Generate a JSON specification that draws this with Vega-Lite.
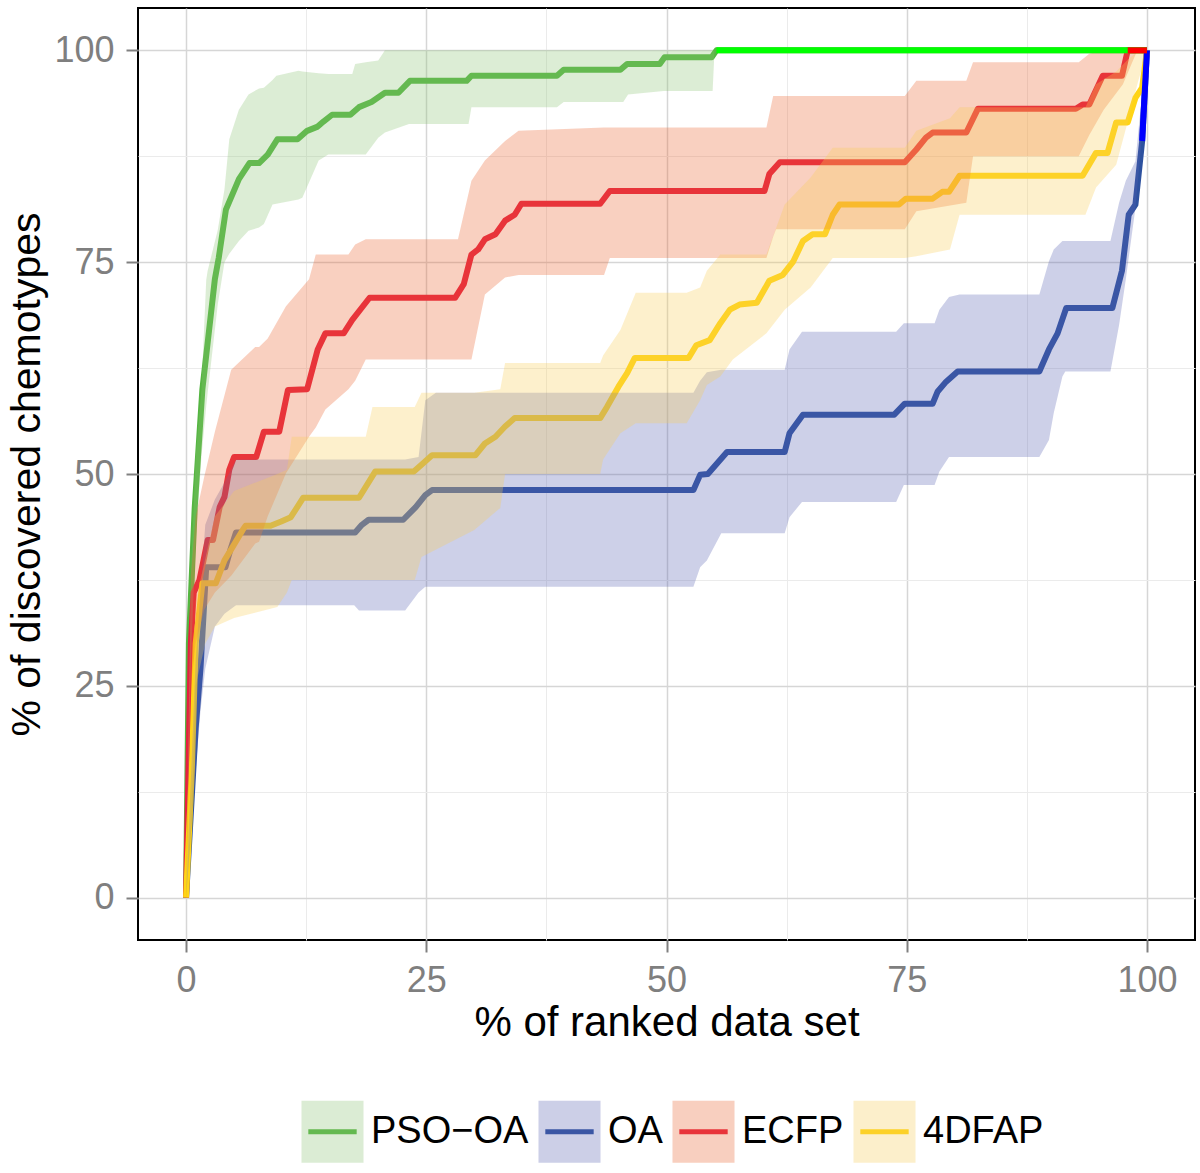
{
  "$schema": "https://vega.github.io/schema/vega-lite/v6.json",
  "width": 1057,
  "height": 932,
  "autosize": {"type": "none"},
  "padding": {"left": 138, "top": 8, "right": 5, "bottom": 233},
  "background": "white",
  "config": {"view": {"stroke": "#000000", "strokeWidth": 2}, "font": "Liberation Sans"},
  "datasets": {
    "lines": [
      {"series": "PSO−OA", "x": 0, "y": 0}, {"series": "PSO−OA", "x": 0.3, "y": 30}, {"series": "PSO−OA", "x": 0.9, "y": 46}, {"series": "PSO−OA", "x": 1.7, "y": 60}, {"series": "PSO−OA", "x": 3.0, "y": 73}, {"series": "PSO−OA", "x": 3.4, "y": 75.5}, {"series": "PSO−OA", "x": 4.15, "y": 81.2}, {"series": "PSO−OA", "x": 5.5, "y": 84.8}, {"series": "PSO−OA", "x": 6.6, "y": 86.7}, {"series": "PSO−OA", "x": 7.6, "y": 86.7}, {"series": "PSO−OA", "x": 8.5, "y": 87.7}, {"series": "PSO−OA", "x": 9.5, "y": 89.5}, {"series": "PSO−OA", "x": 11.6, "y": 89.5}, {"series": "PSO−OA", "x": 12.6, "y": 90.5}, {"series": "PSO−OA", "x": 13.7, "y": 91.0}, {"series": "PSO−OA", "x": 14.3, "y": 91.6}, {"series": "PSO−OA", "x": 15.2, "y": 92.4}, {"series": "PSO−OA", "x": 17.1, "y": 92.4}, {"series": "PSO−OA", "x": 18.0, "y": 93.3}, {"series": "PSO−OA", "x": 19.3, "y": 93.9}, {"series": "PSO−OA", "x": 20.7, "y": 95.0}, {"series": "PSO−OA", "x": 22.1, "y": 95.0}, {"series": "PSO−OA", "x": 23.3, "y": 96.4}, {"series": "PSO−OA", "x": 29.2, "y": 96.4}, {"series": "PSO−OA", "x": 29.7, "y": 97.0}, {"series": "PSO−OA", "x": 38.6, "y": 97.0}, {"series": "PSO−OA", "x": 39.3, "y": 97.7}, {"series": "PSO−OA", "x": 45.2, "y": 97.7}, {"series": "PSO−OA", "x": 45.9, "y": 98.4}, {"series": "PSO−OA", "x": 49.3, "y": 98.4}, {"series": "PSO−OA", "x": 49.8, "y": 99.2}, {"series": "PSO−OA", "x": 54.7, "y": 99.2}, {"series": "PSO−OA", "x": 55.2, "y": 100}, {"series": "PSO−OA", "x": 100, "y": 100},

      {"series": "OA", "x": 0, "y": 0}, {"series": "OA", "x": 1.0, "y": 20}, {"series": "OA", "x": 1.5, "y": 27}, {"series": "OA", "x": 1.9, "y": 35}, {"series": "OA", "x": 2.1, "y": 39.0}, {"series": "OA", "x": 4.1, "y": 39.0}, {"series": "OA", "x": 4.6, "y": 41}, {"series": "OA", "x": 5.2, "y": 43.1}, {"series": "OA", "x": 17.6, "y": 43.1}, {"series": "OA", "x": 18.3, "y": 44.0}, {"series": "OA", "x": 19.0, "y": 44.6}, {"series": "OA", "x": 22.6, "y": 44.6}, {"series": "OA", "x": 23.9, "y": 46.1}, {"series": "OA", "x": 24.9, "y": 47.5}, {"series": "OA", "x": 25.6, "y": 48.1}, {"series": "OA", "x": 52.8, "y": 48.1}, {"series": "OA", "x": 53.5, "y": 49.9}, {"series": "OA", "x": 54.3, "y": 50.0}, {"series": "OA", "x": 56.3, "y": 52.6}, {"series": "OA", "x": 62.3, "y": 52.6}, {"series": "OA", "x": 62.8, "y": 54.8}, {"series": "OA", "x": 64.2, "y": 57.0}, {"series": "OA", "x": 73.7, "y": 57.0}, {"series": "OA", "x": 74.8, "y": 58.3}, {"series": "OA", "x": 77.7, "y": 58.3}, {"series": "OA", "x": 78.2, "y": 59.7}, {"series": "OA", "x": 79.1, "y": 60.9}, {"series": "OA", "x": 80.3, "y": 62.1}, {"series": "OA", "x": 88.8, "y": 62.1}, {"series": "OA", "x": 89.8, "y": 64.7}, {"series": "OA", "x": 90.7, "y": 66.6}, {"series": "OA", "x": 91.6, "y": 69.6}, {"series": "OA", "x": 96.4, "y": 69.6}, {"series": "OA", "x": 97.4, "y": 74}, {"series": "OA", "x": 98.1, "y": 80.6}, {"series": "OA", "x": 98.8, "y": 81.8}, {"series": "OA", "x": 99.5, "y": 89.3}, {"series": "OA", "x": 100, "y": 100},

      {"series": "ECFP", "x": 0, "y": 0}, {"series": "ECFP", "x": 0.5, "y": 30}, {"series": "ECFP", "x": 0.8, "y": 36}, {"series": "ECFP", "x": 1.4, "y": 37.5}, {"series": "ECFP", "x": 2.25, "y": 42.2}, {"series": "ECFP", "x": 2.8, "y": 42.2}, {"series": "ECFP", "x": 3.5, "y": 46.1}, {"series": "ECFP", "x": 4.0, "y": 47.3}, {"series": "ECFP", "x": 4.5, "y": 50.5}, {"series": "ECFP", "x": 5.0, "y": 52.0}, {"series": "ECFP", "x": 7.3, "y": 52.0}, {"series": "ECFP", "x": 8.1, "y": 55.0}, {"series": "ECFP", "x": 9.7, "y": 55.0}, {"series": "ECFP", "x": 10.6, "y": 59.9}, {"series": "ECFP", "x": 12.6, "y": 60.0}, {"series": "ECFP", "x": 13.7, "y": 64.7}, {"series": "ECFP", "x": 14.5, "y": 66.6}, {"series": "ECFP", "x": 16.4, "y": 66.6}, {"series": "ECFP", "x": 17.3, "y": 68.2}, {"series": "ECFP", "x": 19.1, "y": 70.8}, {"series": "ECFP", "x": 28.0, "y": 70.8}, {"series": "ECFP", "x": 28.9, "y": 72.4}, {"series": "ECFP", "x": 29.7, "y": 75.9}, {"series": "ECFP", "x": 30.4, "y": 76.5}, {"series": "ECFP", "x": 31.1, "y": 77.7}, {"series": "ECFP", "x": 32.2, "y": 78.3}, {"series": "ECFP", "x": 33.2, "y": 79.9}, {"series": "ECFP", "x": 34.2, "y": 80.6}, {"series": "ECFP", "x": 34.9, "y": 81.9}, {"series": "ECFP", "x": 43.1, "y": 81.9}, {"series": "ECFP", "x": 44.1, "y": 83.4}, {"series": "ECFP", "x": 60.2, "y": 83.4}, {"series": "ECFP", "x": 60.7, "y": 85.4}, {"series": "ECFP", "x": 61.8, "y": 86.8}, {"series": "ECFP", "x": 74.8, "y": 86.8}, {"series": "ECFP", "x": 76.0, "y": 88.3}, {"series": "ECFP", "x": 77.0, "y": 89.7}, {"series": "ECFP", "x": 77.7, "y": 90.3}, {"series": "ECFP", "x": 81.2, "y": 90.3}, {"series": "ECFP", "x": 82.4, "y": 93.1}, {"series": "ECFP", "x": 92.6, "y": 93.1}, {"series": "ECFP", "x": 93.3, "y": 93.6}, {"series": "ECFP", "x": 94.0, "y": 93.6}, {"series": "ECFP", "x": 95.4, "y": 97.0}, {"series": "ECFP", "x": 97.4, "y": 97.0}, {"series": "ECFP", "x": 98.0, "y": 100}, {"series": "ECFP", "x": 100, "y": 100},

      {"series": "4DFAP", "x": 0, "y": 0}, {"series": "4DFAP", "x": 0.6, "y": 15}, {"series": "4DFAP", "x": 1.0, "y": 30}, {"series": "4DFAP", "x": 1.4, "y": 34}, {"series": "4DFAP", "x": 1.7, "y": 37.1}, {"series": "4DFAP", "x": 3.1, "y": 37.1}, {"series": "4DFAP", "x": 4.0, "y": 39.8}, {"series": "4DFAP", "x": 4.85, "y": 41.4}, {"series": "4DFAP", "x": 5.9, "y": 43.4}, {"series": "4DFAP", "x": 6.2, "y": 43.9}, {"series": "4DFAP", "x": 8.8, "y": 43.9}, {"series": "4DFAP", "x": 9.9, "y": 44.4}, {"series": "4DFAP", "x": 10.9, "y": 44.9}, {"series": "4DFAP", "x": 12.2, "y": 47.2}, {"series": "4DFAP", "x": 18.0, "y": 47.2}, {"series": "4DFAP", "x": 19.7, "y": 50.3}, {"series": "4DFAP", "x": 23.7, "y": 50.3}, {"series": "4DFAP", "x": 24.5, "y": 51.1}, {"series": "4DFAP", "x": 25.6, "y": 52.2}, {"series": "4DFAP", "x": 30.1, "y": 52.2}, {"series": "4DFAP", "x": 31.1, "y": 53.6}, {"series": "4DFAP", "x": 32.2, "y": 54.4}, {"series": "4DFAP", "x": 33.2, "y": 55.6}, {"series": "4DFAP", "x": 34.2, "y": 56.6}, {"series": "4DFAP", "x": 43.1, "y": 56.6}, {"series": "4DFAP", "x": 43.8, "y": 57.9}, {"series": "4DFAP", "x": 45.0, "y": 60.3}, {"series": "4DFAP", "x": 45.9, "y": 61.9}, {"series": "4DFAP", "x": 46.7, "y": 63.7}, {"series": "4DFAP", "x": 52.3, "y": 63.7}, {"series": "4DFAP", "x": 53.1, "y": 65.2}, {"series": "4DFAP", "x": 54.5, "y": 65.8}, {"series": "4DFAP", "x": 55.6, "y": 67.8}, {"series": "4DFAP", "x": 56.6, "y": 69.4}, {"series": "4DFAP", "x": 57.6, "y": 70.0}, {"series": "4DFAP", "x": 59.4, "y": 70.2}, {"series": "4DFAP", "x": 60.7, "y": 72.8}, {"series": "4DFAP", "x": 62.1, "y": 73.5}, {"series": "4DFAP", "x": 63.2, "y": 75.1}, {"series": "4DFAP", "x": 64.2, "y": 77.5}, {"series": "4DFAP", "x": 65.2, "y": 78.3}, {"series": "4DFAP", "x": 66.5, "y": 78.3}, {"series": "4DFAP", "x": 67.3, "y": 80.6}, {"series": "4DFAP", "x": 68.0, "y": 81.8}, {"series": "4DFAP", "x": 74.2, "y": 81.8}, {"series": "4DFAP", "x": 74.9, "y": 82.5}, {"series": "4DFAP", "x": 77.7, "y": 82.5}, {"series": "4DFAP", "x": 78.7, "y": 83.3}, {"series": "4DFAP", "x": 79.4, "y": 83.3}, {"series": "4DFAP", "x": 80.5, "y": 85.2}, {"series": "4DFAP", "x": 93.3, "y": 85.2}, {"series": "4DFAP", "x": 94.7, "y": 87.9}, {"series": "4DFAP", "x": 95.9, "y": 87.9}, {"series": "4DFAP", "x": 96.8, "y": 91.5}, {"series": "4DFAP", "x": 98.0, "y": 91.5}, {"series": "4DFAP", "x": 98.8, "y": 94.4}, {"series": "4DFAP", "x": 99.5, "y": 95.6}, {"series": "4DFAP", "x": 100, "y": 100}
    ],
    "bands": [
      {"series": "PSO−OA", "x": 0, "lo": 0, "hi": 0}, {"series": "PSO−OA", "x": 0.5, "lo": 28, "hi": 38}, {"series": "PSO−OA", "x": 1.0, "lo": 42, "hi": 52}, {"series": "PSO−OA", "x": 1.6, "lo": 52, "hi": 60}, {"series": "PSO−OA", "x": 2.1, "lo": 58, "hi": 72.9}, {"series": "PSO−OA", "x": 2.25, "lo": 59.6, "hi": 74}, {"series": "PSO−OA", "x": 3.3, "lo": 70, "hi": 78.8}, {"series": "PSO−OA", "x": 4.0, "lo": 75, "hi": 83.6}, {"series": "PSO−OA", "x": 4.5, "lo": 76, "hi": 89.5}, {"series": "PSO−OA", "x": 5.5, "lo": 77.5, "hi": 93.0}, {"series": "PSO−OA", "x": 6.5, "lo": 78.7, "hi": 94.8}, {"series": "PSO−OA", "x": 7.6, "lo": 79.1, "hi": 95.5}, {"series": "PSO−OA", "x": 8.1, "lo": 79.5, "hi": 95.6}, {"series": "PSO−OA", "x": 9.0, "lo": 81.8, "hi": 96.5}, {"series": "PSO−OA", "x": 9.4, "lo": 81.9, "hi": 97.0}, {"series": "PSO−OA", "x": 11.7, "lo": 82.4, "hi": 97.6}, {"series": "PSO−OA", "x": 12.1, "lo": 82.6, "hi": 97.5}, {"series": "PSO−OA", "x": 13.8, "lo": 87.0, "hi": 97.3}, {"series": "PSO−OA", "x": 14.8, "lo": 87.7, "hi": 97.2}, {"series": "PSO−OA", "x": 17.3, "lo": 87.7, "hi": 97.2}, {"series": "PSO−OA", "x": 17.6, "lo": 87.7, "hi": 98.4}, {"series": "PSO−OA", "x": 18.7, "lo": 87.7, "hi": 98.6}, {"series": "PSO−OA", "x": 20.0, "lo": 89.7, "hi": 98.8}, {"series": "PSO−OA", "x": 20.7, "lo": 90.3, "hi": 100}, {"series": "PSO−OA", "x": 23.2, "lo": 91.3, "hi": 100}, {"series": "PSO−OA", "x": 29.4, "lo": 91.3, "hi": 100}, {"series": "PSO−OA", "x": 29.7, "lo": 93.3, "hi": 100}, {"series": "PSO−OA", "x": 38.6, "lo": 93.3, "hi": 100}, {"series": "PSO−OA", "x": 39.3, "lo": 93.9, "hi": 100}, {"series": "PSO−OA", "x": 45.5, "lo": 93.9, "hi": 100}, {"series": "PSO−OA", "x": 46.0, "lo": 94.8, "hi": 100}, {"series": "PSO−OA", "x": 49.7, "lo": 95.2, "hi": 100}, {"series": "PSO−OA", "x": 54.8, "lo": 95.2, "hi": 100}, {"series": "PSO−OA", "x": 55.0, "lo": 100, "hi": 100}, {"series": "PSO−OA", "x": 100, "lo": 100, "hi": 100},

      {"series": "OA", "x": 0, "lo": 0, "hi": 0}, {"series": "OA", "x": 1.0, "lo": 15, "hi": 28}, {"series": "OA", "x": 1.5, "lo": 22, "hi": 36}, {"series": "OA", "x": 2.0, "lo": 27, "hi": 44}, {"series": "OA", "x": 3.0, "lo": 32, "hi": 47}, {"series": "OA", "x": 4.0, "lo": 33.5, "hi": 49}, {"series": "OA", "x": 5.2, "lo": 34.5, "hi": 51.7}, {"series": "OA", "x": 17.5, "lo": 34.5, "hi": 51.7}, {"series": "OA", "x": 18.0, "lo": 33.9, "hi": 51.7}, {"series": "OA", "x": 22.8, "lo": 33.9, "hi": 51.7}, {"series": "OA", "x": 24.2, "lo": 36, "hi": 52}, {"series": "OA", "x": 24.9, "lo": 36.7, "hi": 58.7}, {"series": "OA", "x": 26.0, "lo": 36.7, "hi": 59.6}, {"series": "OA", "x": 52.8, "lo": 36.7, "hi": 59.6}, {"series": "OA", "x": 53.5, "lo": 39.0, "hi": 61.0}, {"series": "OA", "x": 54.2, "lo": 39.8, "hi": 62.0}, {"series": "OA", "x": 55.7, "lo": 43.0, "hi": 62.3}, {"series": "OA", "x": 62.3, "lo": 43.0, "hi": 62.3}, {"series": "OA", "x": 62.8, "lo": 44.9, "hi": 64.7}, {"series": "OA", "x": 64.1, "lo": 46.7, "hi": 66.8}, {"series": "OA", "x": 73.9, "lo": 46.7, "hi": 66.8}, {"series": "OA", "x": 74.7, "lo": 48.7, "hi": 67.8}, {"series": "OA", "x": 77.9, "lo": 48.7, "hi": 67.8}, {"series": "OA", "x": 78.4, "lo": 50.3, "hi": 69.4}, {"series": "OA", "x": 79.4, "lo": 52.0, "hi": 70.9}, {"series": "OA", "x": 80.5, "lo": 52.0, "hi": 71.2}, {"series": "OA", "x": 88.8, "lo": 52.0, "hi": 71.2}, {"series": "OA", "x": 89.8, "lo": 54.0, "hi": 75.1}, {"series": "OA", "x": 90.3, "lo": 57.2, "hi": 76.5}, {"series": "OA", "x": 91.2, "lo": 61.5, "hi": 77.5}, {"series": "OA", "x": 91.5, "lo": 62.1, "hi": 77.5}, {"series": "OA", "x": 96.2, "lo": 62.1, "hi": 77.5}, {"series": "OA", "x": 97.1, "lo": 67.6, "hi": 82}, {"series": "OA", "x": 97.8, "lo": 73, "hi": 84.6}, {"series": "OA", "x": 98.8, "lo": 81.4, "hi": 86.9}, {"series": "OA", "x": 99.5, "lo": 90, "hi": 95}, {"series": "OA", "x": 100, "lo": 100, "hi": 100},

      {"series": "ECFP", "x": 0, "lo": 0, "hi": 0}, {"series": "ECFP", "x": 0.5, "lo": 25, "hi": 38}, {"series": "ECFP", "x": 1.0, "lo": 30, "hi": 45}, {"series": "ECFP", "x": 1.9, "lo": 34, "hi": 49.7}, {"series": "ECFP", "x": 3.0, "lo": 36, "hi": 55}, {"series": "ECFP", "x": 4.7, "lo": 38, "hi": 62.3}, {"series": "ECFP", "x": 7.2, "lo": 41.8, "hi": 65.0}, {"series": "ECFP", "x": 7.6, "lo": 42, "hi": 65.0}, {"series": "ECFP", "x": 8.5, "lo": 45, "hi": 66}, {"series": "ECFP", "x": 10.4, "lo": 50.1, "hi": 69.8}, {"series": "ECFP", "x": 12.8, "lo": 54.4, "hi": 73}, {"series": "ECFP", "x": 13.5, "lo": 55.5, "hi": 75.9}, {"series": "ECFP", "x": 14.5, "lo": 57.6, "hi": 75.9}, {"series": "ECFP", "x": 16.9, "lo": 60, "hi": 75.9}, {"series": "ECFP", "x": 17.6, "lo": 61, "hi": 77.1}, {"series": "ECFP", "x": 18.7, "lo": 63.5, "hi": 77.7}, {"series": "ECFP", "x": 28.3, "lo": 63.5, "hi": 77.7}, {"series": "ECFP", "x": 29.7, "lo": 63.5, "hi": 84.6}, {"series": "ECFP", "x": 31.1, "lo": 71.2, "hi": 87}, {"series": "ECFP", "x": 33.2, "lo": 73.2, "hi": 89.3}, {"series": "ECFP", "x": 34.6, "lo": 73.5, "hi": 90.5}, {"series": "ECFP", "x": 43.5, "lo": 73.5, "hi": 90.9}, {"series": "ECFP", "x": 44.1, "lo": 75.5, "hi": 90.9}, {"series": "ECFP", "x": 60.4, "lo": 75.5, "hi": 90.9}, {"series": "ECFP", "x": 61.1, "lo": 78.0, "hi": 94.6}, {"series": "ECFP", "x": 61.4, "lo": 78.9, "hi": 94.6}, {"series": "ECFP", "x": 74.8, "lo": 78.9, "hi": 94.6}, {"series": "ECFP", "x": 76.0, "lo": 81, "hi": 96.4}, {"series": "ECFP", "x": 81.2, "lo": 82, "hi": 96.4}, {"series": "ECFP", "x": 81.9, "lo": 87.5, "hi": 98.6}, {"series": "ECFP", "x": 92.9, "lo": 87.5, "hi": 98.6}, {"series": "ECFP", "x": 94.0, "lo": 90, "hi": 99.6}, {"series": "ECFP", "x": 95.5, "lo": 93, "hi": 100}, {"series": "ECFP", "x": 97.5, "lo": 96, "hi": 100}, {"series": "ECFP", "x": 99, "lo": 100, "hi": 100}, {"series": "ECFP", "x": 100, "lo": 100, "hi": 100},

      {"series": "4DFAP", "x": 0, "lo": 0, "hi": 0}, {"series": "4DFAP", "x": 0.6, "lo": 10, "hi": 20}, {"series": "4DFAP", "x": 1.0, "lo": 25, "hi": 35}, {"series": "4DFAP", "x": 2.0, "lo": 30, "hi": 40}, {"series": "4DFAP", "x": 3.0, "lo": 32, "hi": 45}, {"series": "4DFAP", "x": 5.0, "lo": 33, "hi": 48}, {"series": "4DFAP", "x": 9.5, "lo": 34.3, "hi": 50}, {"series": "4DFAP", "x": 10.5, "lo": 36, "hi": 50.5}, {"series": "4DFAP", "x": 11.0, "lo": 37.5, "hi": 54.4}, {"series": "4DFAP", "x": 18.7, "lo": 37.5, "hi": 54.4}, {"series": "4DFAP", "x": 19.4, "lo": 37.5, "hi": 57.9}, {"series": "4DFAP", "x": 23.8, "lo": 37.5, "hi": 57.9}, {"series": "4DFAP", "x": 24.5, "lo": 40.2, "hi": 59.6}, {"series": "4DFAP", "x": 30.0, "lo": 43.4, "hi": 59.6}, {"series": "4DFAP", "x": 32.7, "lo": 46, "hi": 60}, {"series": "4DFAP", "x": 33.2, "lo": 50.0, "hi": 63.1}, {"series": "4DFAP", "x": 43.1, "lo": 50.0, "hi": 63.1}, {"series": "4DFAP", "x": 43.4, "lo": 51.7, "hi": 64}, {"series": "4DFAP", "x": 45.2, "lo": 54.8, "hi": 67.0}, {"series": "4DFAP", "x": 46.8, "lo": 56.0, "hi": 71.4}, {"series": "4DFAP", "x": 52.1, "lo": 56.0, "hi": 71.4}, {"series": "4DFAP", "x": 53.5, "lo": 58.7, "hi": 72}, {"series": "4DFAP", "x": 54.2, "lo": 60.5, "hi": 74}, {"series": "4DFAP", "x": 55.6, "lo": 61.5, "hi": 75.9}, {"series": "4DFAP", "x": 56.9, "lo": 63.5, "hi": 75.9}, {"series": "4DFAP", "x": 60.4, "lo": 66.6, "hi": 75.9}, {"series": "4DFAP", "x": 62.3, "lo": 69.4, "hi": 81.8}, {"series": "4DFAP", "x": 65, "lo": 72, "hi": 85}, {"series": "4DFAP", "x": 67.3, "lo": 75.5, "hi": 88.5}, {"series": "4DFAP", "x": 74.8, "lo": 75.5, "hi": 88.5}, {"series": "4DFAP", "x": 76.0, "lo": 75.7, "hi": 90.5}, {"series": "4DFAP", "x": 79.5, "lo": 76.5, "hi": 92}, {"series": "4DFAP", "x": 80.5, "lo": 80.6, "hi": 93.3}, {"series": "4DFAP", "x": 93.6, "lo": 80.6, "hi": 93.3}, {"series": "4DFAP", "x": 94.7, "lo": 83.8, "hi": 96.0}, {"series": "4DFAP", "x": 96.8, "lo": 86.5, "hi": 97.5}, {"series": "4DFAP", "x": 98.1, "lo": 92, "hi": 99}, {"series": "4DFAP", "x": 99.0, "lo": 96, "hi": 99.8}, {"series": "4DFAP", "x": 100, "lo": 100, "hi": 100}
    ]
  },
  "layer": [
    {
      "data": {"name": "lines"},
      "mark": {"type": "line", "strokeWidth": 6, "strokeJoin": "round"},
      "encoding": {
        "x": {
          "field": "x", "type": "quantitative",
          "scale": {"domain": [-5, 105], "nice": false, "zero": false},
          "axis": {
            "title": "% of ranked data set", "titleFontSize": 42, "titleFontWeight": "normal", "titleColor": "#000000", "titlePadding": 4,
            "values": [0, 12.5, 25, 37.5, 50, 62.5, 75, 87.5, 100],
            "labelExpr": "datum.value % 25 === 0 ? datum.label : ''",
            "labelFontSize": 36, "labelColor": "#7f7f7f", "labelPadding": 11, "labelFlush": false, "labelOverlap": false,
            "domain": false,
            "tickSize": 12, "tickWidth": 2, "tickColor": "#808080",
            "tickOpacity": {"condition": {"test": "datum.value % 25 === 0", "value": 1}, "value": 0},
            "grid": true,
            "gridColor": {"condition": {"test": "datum.value % 25 === 0", "value": "#d6d6d6"}, "value": "#ebebeb"},
            "gridWidth": {"condition": {"test": "datum.value % 25 === 0", "value": 1.5}, "value": 1}
          }
        },
        "y": {
          "field": "y", "type": "quantitative",
          "scale": {"domain": [-5, 105], "nice": false, "zero": false},
          "axis": {
            "title": "% of discovered chemotypes", "titleFontSize": 41, "titleFontWeight": "normal", "titleColor": "#000000", "titlePadding": 5,
            "values": [0, 12.5, 25, 37.5, 50, 62.5, 75, 87.5, 100],
            "labelExpr": "datum.value % 25 === 0 ? datum.label : ''",
            "labelFontSize": 36, "labelColor": "#7f7f7f", "labelPadding": 12, "labelFlush": false, "labelOverlap": false,
            "domain": false,
            "tickSize": 12, "tickWidth": 2, "tickColor": "#808080",
            "tickOpacity": {"condition": {"test": "datum.value % 25 === 0", "value": 1}, "value": 0},
            "grid": true,
            "gridColor": {"condition": {"test": "datum.value % 25 === 0", "value": "#d6d6d6"}, "value": "#ebebeb"},
            "gridWidth": {"condition": {"test": "datum.value % 25 === 0", "value": 1.5}, "value": 1}
          }
        },
        "stroke": {
          "field": "series", "type": "nominal",
          "scale": {"domain": ["PSO−OA", "OA", "ECFP", "4DFAP"], "range": ["#54b541", "#2d519f", "#e72040", "#ffd415"]},
          "legend": {
            "orient": "none", "legendX": 161, "legendY": 1090, "direction": "horizontal", "columns": 4,
            "title": null, "padding": 0, "columnPadding": -1,
            "symbolType": "M-1,-1M-0.78,0H0.78M1,1", "symbolSize": 3844, "symbolStrokeWidth": 5, "symbolFillColor": "transparent",
            "labelFontSize": 38, "labelColor": "transparent", "labelOffset": 5, "labelLimit": 500
          }
        }
      }
    },
    {
      "data": {"name": "bands"},
      "mark": {"type": "area", "opacity": 0.3},
      "encoding": {
        "x": {"field": "x", "type": "quantitative"},
        "y": {"field": "lo", "type": "quantitative"},
        "y2": {"field": "hi"},
        "fill": {
          "field": "series", "type": "nominal",
          "scale": {"domain": ["PSO−OA", "OA", "ECFP", "4DFAP"], "range": ["#8ac373", "#5862b2", "#eb622d", "#f8cd55"]},
          "legend": {
            "orient": "none", "legendX": 161, "legendY": 1090, "direction": "horizontal", "columns": 4,
            "title": null, "padding": 0, "columnPadding": -1,
            "symbolType": "square", "symbolSize": 3844, "symbolStrokeWidth": 5, "symbolStrokeColor": "transparent", "symbolOpacity": 0.3,
            "labelFontSize": 38, "labelColor": "#000000", "labelOffset": 5, "labelLimit": 500
          }
        }
      }
    },
    {
      "data": {"name": "lines"},
      "transform": [{"filter": "(datum.series === 'PSO−OA' && datum.x >= 55.2) || (datum.series === 'ECFP' && datum.x >= 98) || (datum.series === 'OA' && datum.x >= 99.5)"}],
      "mark": {"type": "line", "strokeWidth": 6},
      "encoding": {
        "x": {"field": "x", "type": "quantitative"},
        "y": {"field": "y", "type": "quantitative"},
        "detail": {"field": "series", "type": "nominal"},
        "stroke": {"condition": [{"test": "datum.series === 'PSO−OA'", "value": "#00ff00"}, {"test": "datum.series === 'ECFP'", "value": "#ff0000"}], "value": "#0000ff"}
      }
    }
  ],
  "resolve": {"legend": {"stroke": "independent", "fill": "independent"}}
}
